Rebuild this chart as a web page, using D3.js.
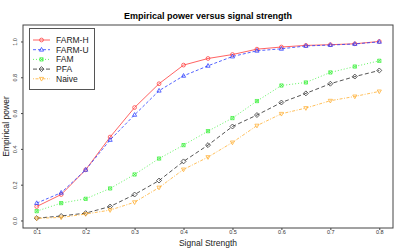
<!DOCTYPE html>
<html>
<head>
<meta charset="utf-8">
<script src="https://cdn.jsdelivr.net/npm/d3@7"></script>
<style>
  body { margin: 0; background: #fff; }
  svg { display: block; font-family: "Liberation Sans", Arial, sans-serif; }
</style>
</head>
<body>
<svg id="chart" width="400" height="250"></svg>
<script>
// signal strength grid
const signal = [0.1, 0.15, 0.2, 0.25, 0.3, 0.35, 0.4, 0.45, 0.5, 0.55, 0.6, 0.65, 0.7, 0.75, 0.8]

// empirical power per method
const farmH = [0.078, 0.145, 0.283, 0.466, 0.631, 0.764, 0.868, 0.905, 0.927, 0.957, 0.969, 0.978, 0.982, 0.987, 1.0]
const farmU = [0.097, 0.155, 0.283, 0.45, 0.59, 0.725, 0.808, 0.864, 0.916, 0.948, 0.959, 0.975, 0.98, 0.986, 0.998]
const fam = [0.052, 0.097, 0.121, 0.179, 0.257, 0.346, 0.421, 0.499, 0.572, 0.667, 0.754, 0.771, 0.827, 0.86, 0.892]
const pfa = [0.013, 0.025, 0.041, 0.078, 0.145, 0.223, 0.33, 0.421, 0.525, 0.589, 0.659, 0.71, 0.764, 0.804, 0.838]
const naive = [0.012, 0.017, 0.036, 0.058, 0.102, 0.184, 0.285, 0.354, 0.436, 0.53, 0.596, 0.628, 0.669, 0.693, 0.721]

const xTicks = [0.1, 0.2, 0.3, 0.4, 0.5, 0.6, 0.7, 0.8]
const yTicks = [0, 0.2, 0.4, 0.6, 0.8, 1.0]

const seriesNames = ["FARM-H", "FARM-U", "FAM", "PFA", "Naive"]

const series = [
  { name: seriesNames[0], values: farmH, color: "#ff3b3b", dash: null, shape: "circle" },
  { name: seriesNames[1], values: farmU, color: "#2a3cff", dash: "3,2", shape: "up" },
  { name: seriesNames[2], values: fam, color: "#3cf03c", dash: "1,2", shape: "boxx" },
  { name: seriesNames[3], values: pfa, color: "#2a2a2a", dash: "4,2.5", shape: "diamond" },
  { name: seriesNames[4], values: naive, color: "#ffae30", dash: "1,1.5,3,1.5", shape: "down" }
]

const svg = d3.select('#chart')

const plotLeft = 23, plotRight = 393, plotTop = 25, plotBottom = 228

// R style: range padded by 4%
const xScale = d3.scaleLinear().domain([0.072, 0.828]).range([plotLeft, plotRight])
const yScale = d3.scaleLinear().domain([-0.042, 1.092]).range([plotBottom, plotTop])

function drawSymbol(g, shape, x, y, color) {
  const s = 1.9
  const sw = 0.75
  if (shape === "circle") {
    g.append('circle').attr('cx', x).attr('cy', y).attr('r', s)
      .attr('fill', 'none').attr('stroke', color).attr('stroke-width', sw)
  } else if (shape === "up") {
    g.append('path')
      .attr('d', `M${x},${y - s * 1.2}L${x + s * 1.1},${y + s * 0.75}L${x - s * 1.1},${y + s * 0.75}Z`)
      .attr('fill', 'none').attr('stroke', color).attr('stroke-width', sw)
  } else if (shape === "down") {
    g.append('path')
      .attr('d', `M${x},${y + s * 1.2}L${x + s * 1.1},${y - s * 0.75}L${x - s * 1.1},${y - s * 0.75}Z`)
      .attr('fill', 'none').attr('stroke', color).attr('stroke-width', sw)
  } else if (shape === "diamond") {
    g.append('path')
      .attr('d', `M${x},${y - s * 1.3}L${x + s * 1.3},${y}L${x},${y + s * 1.3}L${x - s * 1.3},${y}Z`)
      .attr('fill', 'none').attr('stroke', color).attr('stroke-width', sw)
  } else if (shape === "boxx") {
    const b = s * 0.85
    g.append('path')
      .attr('d', `M${x - b},${y - b}H${x + b}V${y + b}H${x - b}Z M${x - b},${y - b}L${x + b},${y + b} M${x + b},${y - b}L${x - b},${y + b}`)
      .attr('fill', 'none').attr('stroke', color).attr('stroke-width', sw)
  }
}

//axes
const xAxis = d3.axisBottom(xScale).tickValues(xTicks).tickSize(2).tickFormat(d3.format('.1f'))
const yAxis = d3.axisLeft(yScale).tickValues(yTicks).tickSize(2).tickFormat(d3.format('.1f'))

const gx = svg.append('g').attr('transform', `translate(0, ${plotBottom})`).call(xAxis)
gx.select('.domain').remove()
gx.selectAll('line').attr('stroke', '#444')
gx.selectAll('text').attr('font-size', '5.5px').attr('fill', '#333').attr('dy', '0.2em')
  .attr('font-family', '"Liberation Sans", Arial, sans-serif')

const gy = svg.append('g').attr('transform', `translate(${plotLeft}, 0)`).call(yAxis)
gy.select('.domain').remove()
gy.selectAll('line').attr('stroke', '#444')
gy.selectAll('text').attr('font-size', '5.5px').attr('fill', '#333')
  .attr('font-family', '"Liberation Sans", Arial, sans-serif')
  .attr('x', null).attr('dy', null)
  .attr('text-anchor', 'middle')
  .attr('transform', 'translate(-6, 0) rotate(-90)')

//lines and points
const line = d3.line().x((d, i) => xScale(signal[i])).y(d => yScale(d))

const chart = svg.append('g')
series.forEach(s => {
  chart.append('path')
    .datum(s.values)
    .attr('d', line)
    .attr('fill', 'none')
    .attr('stroke', s.color)
    .attr('stroke-width', 0.8)
    .attr('stroke-dasharray', s.dash)
  const pts = chart.append('g')
  s.values.forEach((v, i) => drawSymbol(pts, s.shape, xScale(signal[i]), yScale(v), s.color))
})

//box
svg.append('rect')
  .attr('x', plotLeft).attr('y', plotTop)
  .attr('width', plotRight - plotLeft).attr('height', plotBottom - plotTop)
  .attr('fill', 'none').attr('stroke', '#444').attr('stroke-width', 1)

//legend
const legend = svg.append('g')
legend.append('rect')
  .attr('x', 29.5).attr('y', 28.5).attr('width', 65).attr('height', 61)
  .attr('fill', '#fff').attr('stroke', '#555').attr('stroke-width', 1)

series.forEach((s, i) => {
  const ly = 40 + i * 9.7
  legend.append('line')
    .attr('x1', 33).attr('x2', 50).attr('y1', ly).attr('y2', ly)
    .attr('stroke', s.color).attr('stroke-width', 0.8)
    .attr('stroke-dasharray', s.dash)
  drawSymbol(legend, s.shape, 41.5, ly, s.color)
  legend.append('text')
    .attr('x', 56).attr('y', ly).attr('dy', '0.35em')
    .attr('font-size', '8.5px').attr('fill', '#222')
    .text(s.name)
})

//labels
svg.append('text')
  .attr('x', (plotLeft + plotRight) / 2).attr('y', 19)
  .attr('text-anchor', 'middle')
  .attr('font-weight', 'bold').attr('font-size', '9px')
  .text('Empirical power versus signal strength')

svg.append('text')
  .attr('x', (plotLeft + plotRight) / 2).attr('y', 246)
  .attr('text-anchor', 'middle')
  .attr('font-size', '8.5px').attr('fill', '#222')
  .text('Signal Strength')

svg.append('text')
  .attr('transform', `translate(9, ${(plotTop + plotBottom) / 2}) rotate(-90)`)
  .attr('text-anchor', 'middle')
  .attr('font-size', '8.5px').attr('fill', '#222')
  .text('Empirical power')
</script>
</body>
</html>
